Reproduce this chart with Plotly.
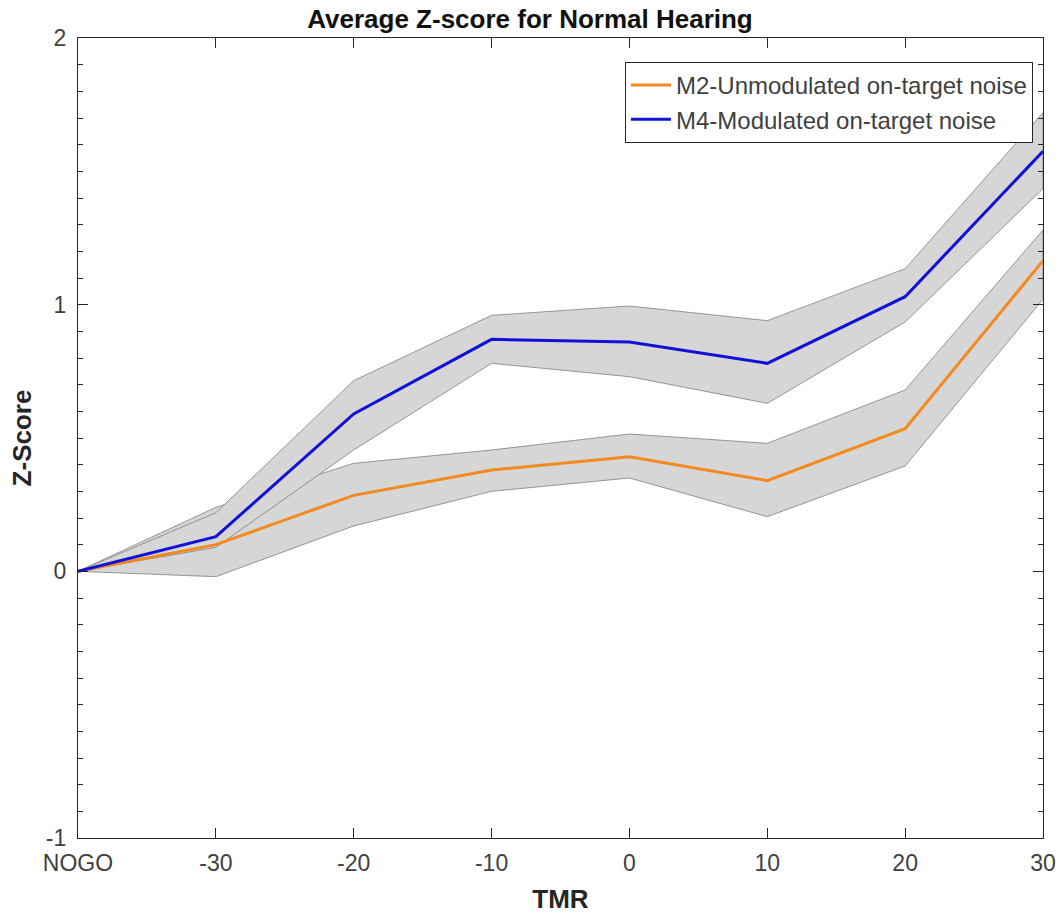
import plotly.graph_objects as go

# TMR conditions along the x axis
tmr_labels = ["NOGO", "-30", "-20", "-10", "0", "10", "20", "30"]
x_pos = list(range(len(tmr_labels)))

# Z-score ticks
z_ticks = [-1, 0, 1, 2]
z_tick_text = ["-1", "0", "1", "2"]

# M2 - unmodulated on-target noise: mean and shaded band
m2_mean = [0.0, 0.10, 0.285, 0.38, 0.43, 0.34, 0.535, 1.165]
m2_upper = [0.0, 0.24, 0.405, 0.455, 0.515, 0.48, 0.68, 1.28]
m2_lower = [0.0, -0.02, 0.17, 0.30, 0.35, 0.205, 0.395, 1.02]

# M4 - modulated on-target noise: mean and shaded band
m4_mean = [0.0, 0.13, 0.59, 0.87, 0.86, 0.78, 1.03, 1.575]
m4_upper = [0.0, 0.22, 0.715, 0.96, 0.995, 0.94, 1.135, 1.72]
m4_lower = [0.0, 0.09, 0.455, 0.78, 0.73, 0.63, 0.935, 1.435]

band_fill = "#d6d6d6"
band_edge = "#7f7f7f"
axis_col = "#262626"
tick_col = "#404040"
font_fam = "Liberation Sans, Arial, sans-serif"

fig = go.Figure()


def add_band(upper, lower):
    fig.add_trace(go.Scatter(
        x=x_pos + x_pos[::-1], y=upper + lower[::-1],
        mode="lines", fill="toself", fillcolor=band_fill,
        line=dict(color=band_edge, width=0.8),
        showlegend=False, hoverinfo="skip"))


add_band(m2_upper, m2_lower)
add_band(m4_upper, m4_lower)

fig.add_trace(go.Scatter(
    x=x_pos, y=m2_mean, mode="lines",
    line=dict(color="#f28a1f", width=3),
    name="M2-Unmodulated on-target noise"))
fig.add_trace(go.Scatter(
    x=x_pos, y=m4_mean, mode="lines",
    line=dict(color="#1010d8", width=3),
    name="M4-Modulated on-target noise"))

fig.update_layout(
    width=1060, height=914,
    margin=dict(l=78, r=17, t=38, b=76),
    paper_bgcolor="white", plot_bgcolor="white",
    font=dict(family=font_fam, color=tick_col, size=16),
    title=dict(text="<b>Average Z-score for Normal Hearing</b>",
               x=0.5, xanchor="center", y=0.979, yanchor="middle",
               font=dict(size=26, color="#111111")),
    legend=dict(x=0.9896, xanchor="right", y=0.97, yanchor="top",
                bgcolor="white", bordercolor=axis_col, borderwidth=1,
                font=dict(size=24, color=tick_col),
                tracegroupgap=0, itemwidth=40),
    showlegend=True,
)

fig.update_xaxes(
    range=[0, 7], tickvals=x_pos, ticktext=tmr_labels,
    automargin=False,
    showgrid=False, zeroline=False,
    showline=True, linecolor=axis_col, linewidth=1.2, mirror="ticks",
    ticks="inside", ticklen=10, tickcolor=axis_col,
    tickfont=dict(size=23, color=tick_col), ticklabelstandoff=4,
    title=dict(text="<b>TMR</b>", font=dict(size=26, color=axis_col), standoff=16),
)
fig.update_yaxes(
    range=[-1, 2], tickvals=z_ticks, ticktext=z_tick_text,
    automargin=False,
    showgrid=False, zeroline=False,
    showline=True, linecolor=axis_col, linewidth=1.2, mirror="ticks",
    ticks="inside", ticklen=10, tickcolor=axis_col,
    minor=dict(dtick=0.1, ticks="inside", ticklen=5, tickcolor=axis_col, showgrid=False),
    tickfont=dict(size=23, color=tick_col), ticklabelstandoff=6,
    title=dict(text="<b>Z-Score</b>", font=dict(size=26, color=axis_col), standoff=6),
)

fig.write_html("out.html")
